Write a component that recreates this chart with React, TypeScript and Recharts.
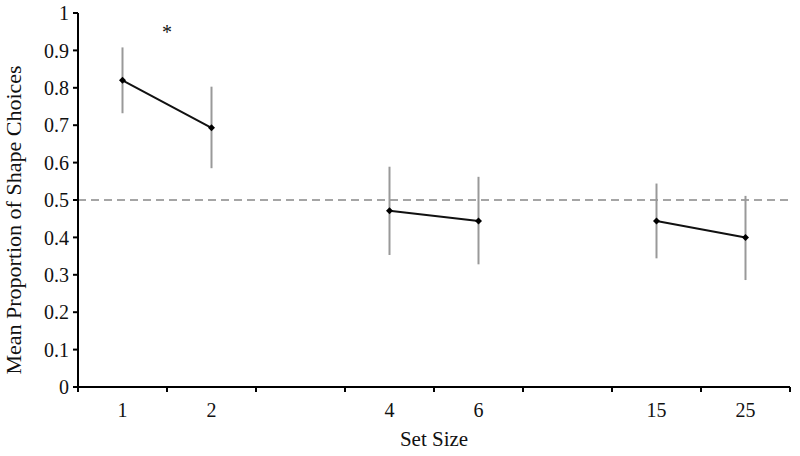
import React from 'react'
import { LineChart, Line, XAxis, YAxis, ErrorBar, ReferenceLine } from 'recharts'

// set sizes (blank slots keep the gaps between the three pairs)
const setSizes = ['1', '2', '', '4', '6', '', '15', '25']
const means = [0.82, 0.693, null, 0.471, 0.444, null, 0.444, 0.4]
const upper = [0.908, 0.803, null, 0.589, 0.562, null, 0.544, 0.511]
const lower = [0.732, 0.585, null, 0.353, 0.328, null, 0.344, 0.286]
// significance marker (drawn between set sizes 1 and 2)
const star = [0.955, null, null, null, null, null, null, null]
const yTicks = [0, 0.1, 0.2, 0.3, 0.4, 0.5, 0.6, 0.7, 0.8, 0.9, 1]

const data = setSizes.map((s, i) => ({
  size: s,
  mean: means[i],
  star: star[i],
  err: means[i] == null ? null : [means[i]! - lower[i]!, upper[i]! - means[i]!],
}))

const W = 800
const H = 456
const margin = { top: 13, right: 10, bottom: 0, left: 0 }
const yAxisW = 78
const xAxisH = 69
const band = (W - margin.left - margin.right - yAxisW) / setSizes.length
const font = '"Liberation Serif", "Times New Roman", serif'

function XTick(props: any) {
  const { x, y, payload, index } = props
  const last = index === setSizes.length - 1
  const axisY = y - 8
  return (
    <g>
      <line x1={x - band / 2} x2={x - band / 2} y1={axisY} y2={axisY + 5} stroke="#000" strokeWidth={2} />
      {last && <line x1={x + band / 2} x2={x + band / 2} y1={axisY} y2={axisY + 5} stroke="#000" strokeWidth={2} />}
      <text x={x} y={axisY + 23} textAnchor="middle" dominantBaseline="central" fontSize={20} fontFamily={font} fill="#111">
        {payload.value}
      </text>
    </g>
  )
}

function Diamond(props: any) {
  const { cx, cy, value } = props
  if (value == null || cx == null) return <g key={props.index} />
  const r = 3.5
  return (
    <path
      key={props.index}
      d={`M${cx},${cy - r}L${cx + r},${cy}L${cx},${cy + r}L${cx - r},${cy}Z`}
      fill="#000"
    />
  )
}

function Star(p: any) {
  if (p.value == null || p.cx == null) return <g key={p.index} />
  return (
    <text key={p.index} x={p.cx + band / 2} y={p.cy + 9} textAnchor="middle" fontSize={20} fontFamily={font} fill="#111">
      *
    </text>
  )
}

export default function App() {
  return (
    <div style={{ position: 'absolute', left: 0, top: 0, background: '#fff' }}>
      <LineChart width={W} height={H} data={data} margin={margin}>
        <XAxis
          dataKey="size"
          height={xAxisH}
          padding={{ left: band / 2, right: band / 2 }}
          tick={<XTick />}
          tickLine={false}
          interval={0}
          axisLine={{ stroke: '#000', strokeWidth: 2 }}
          label={{ value: 'Set Size', position: 'insideBottom', offset: 10, fontSize: 21, fontFamily: font, fill: '#111' }}
        />
        <YAxis
          width={yAxisW}
          domain={[0, 1]}
          ticks={yTicks}
          interval={0}
          tickSize={5}
          tickMargin={4}
          tick={{ fontSize: 20, fontFamily: font, fill: '#111' }}
          tickLine={{ stroke: '#000', strokeWidth: 2 }}
          axisLine={{ stroke: '#000', strokeWidth: 2 }}
          label={{
            value: 'Mean Proportion of Shape Choices',
            angle: -90,
            position: 'insideLeft',
            dx: 8,
            dy: 20,
            fontSize: 22,
            fontFamily: font,
            fill: '#111',
            style: { textAnchor: 'middle' },
          }}
        />
        <ReferenceLine y={0.5} stroke="#888" strokeWidth={1.5} strokeDasharray="8 5" />
        <Line
          dataKey="star"
          stroke="none"
          dot={<Star />}
          activeDot={false}
          isAnimationActive={false}
        />
        <Line
          dataKey="mean"
          stroke="#111"
          strokeWidth={2}
          dot={<Diamond />}
          activeDot={false}
          isAnimationActive={false}
        >
          <ErrorBar dataKey="err" width={0} stroke="#999" strokeWidth={2} direction="y" />
        </Line>
      </LineChart>
    </div>
  )
}
